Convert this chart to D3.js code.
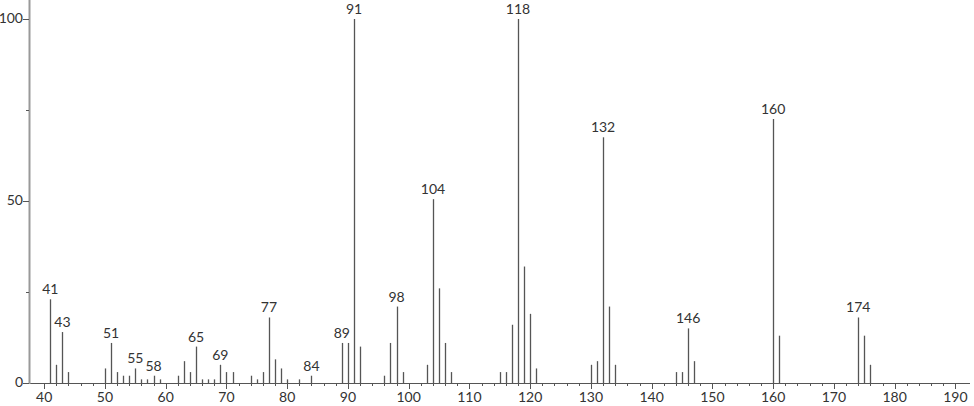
<!DOCTYPE html>
<html>
<head>
<meta charset="utf-8">
<script src="https://cdn.jsdelivr.net/npm/d3@7"></script>
<style>
    body { margin: 0; background: #fff; }
    svg { display: block; }
    text { font-family: "Lato", "Open Sans", sans-serif; fill: #333; }
</style>
</head>
<body>
<svg id="spectrum" width="974" height="406"></svg>
<script>
// m/z values and relative intensities
const mz = [41, 42, 43, 44, 50, 51, 52, 53, 54, 55, 56, 57, 58, 59, 62, 63, 64, 65, 66, 67, 68, 69,
    70, 71, 74, 75, 76, 77, 78, 79, 80, 82, 84, 89, 90, 91, 92, 96, 97, 98, 99, 103, 104, 105,
    106, 107, 115, 116, 117, 118, 119, 120, 121, 130, 131, 132, 133, 134, 144, 145, 146, 147,
    160, 161, 174, 175, 176];
const intensity = [23, 5, 14, 3, 4, 11, 3, 2, 2, 4, 1, 1, 2, 1, 2, 6, 3, 10, 1, 1, 1, 5,
    3, 3, 2, 1, 3, 18, 6.5, 4, 1, 1, 2, 11, 11, 100, 10, 2, 11, 21, 3, 5, 50.5, 26,
    11, 3, 3, 3, 16, 100, 32, 19, 4, 5, 6, 67.5, 21, 5, 3, 3, 15, 6,
    72.5, 13, 18, 13, 5];
const labelled = [41, 43, 51, 55, 58, 65, 69, 77, 84, 89, 91, 98, 104, 118, 132, 146, 160, 174];
const xTicks = [40, 50, 60, 70, 80, 90, 100, 110, 120, 130, 140, 150, 160, 170, 180, 190];
const yTicks = [0, 50, 100];

let peaks = mz.map(function(m, i) { return {mz: m, y: intensity[i]}; });

let svg = d3.select("#spectrum");

let x = d3.scaleLinear().domain([37.5, 192.4]).range([29, 970]);
let y = d3.scaleLinear().domain([0, 100]).range([383, 19]);

// x axis with major and minor ticks
svg.append("line")
    .attr("x1", 29).attr("x2", 970)
    .attr("y1", 383.5).attr("y2", 383.5)
    .style("stroke", "#555");

svg.selectAll(".xminor").data(d3.range(40, 192, 2))
    .enter().append("line")
    .attr("class", "xminor")
    .attr("x1", function(d) { return Math.round(x(d)) + 0.5; })
    .attr("x2", function(d) { return Math.round(x(d)) + 0.5; })
    .attr("y1", 383.5)
    .attr("y2", function(d) { return d % 10 == 0 ? 389 : 386; })
    .style("stroke", "#555");

svg.selectAll(".xlabel").data(xTicks)
    .enter().append("text")
    .attr("class", "xlabel")
    .attr("x", function(d) { return x(d); })
    .attr("y", 402)
    .attr("text-anchor", "middle")
    .style("font-size", "14px")
    .text(function(d) { return d; });

// y axis
svg.append("line")
    .attr("x1", 29.5).attr("x2", 29.5)
    .attr("y1", 0).attr("y2", 384)
    .style("stroke", "#999")
    .style("stroke-width", 2);

svg.selectAll(".ytick").data([0, 25, 50, 75, 100])
    .enter().append("line")
    .attr("class", "ytick")
    .attr("x1", function(d) { return d % 50 == 0 ? 23 : 26; })
    .attr("x2", 29)
    .attr("y1", function(d) { return Math.round(y(d)) + 0.5; })
    .attr("y2", function(d) { return Math.round(y(d)) + 0.5; })
    .style("stroke", "#555");

svg.selectAll(".ylabel").data(yTicks)
    .enter().append("text")
    .attr("class", "ylabel")
    .attr("x", 23)
    .attr("y", function(d) { return y(d); })
    .attr("text-anchor", "end")
    .attr("dominant-baseline", "middle")
    .style("font-size", "14px")
    .text(function(d) { return d; });

// the stick spectrum
svg.selectAll(".peak").data(peaks)
    .enter().append("line")
    .attr("class", "peak")
    .attr("x1", function(d) { return Math.round(x(d.mz)) + 0.5; })
    .attr("x2", function(d) { return Math.round(x(d.mz)) + 0.5; })
    .attr("y1", y(0))
    .attr("y2", function(d) { return y(d.y); })
    .style("stroke", "#555")
    .style("stroke-width", 1.3);

svg.selectAll(".peaklabel").data(peaks.filter(function(d) { return labelled.includes(d.mz); }))
    .enter().append("text")
    .attr("class", "peaklabel")
    .attr("x", function(d) { return x(d.mz); })
    .attr("y", function(d) { return y(d.y) - 5; })
    .attr("text-anchor", "middle")
    .style("font-size", "14px")
    .text(function(d) { return d.mz; });
</script>
</body>
</html>
